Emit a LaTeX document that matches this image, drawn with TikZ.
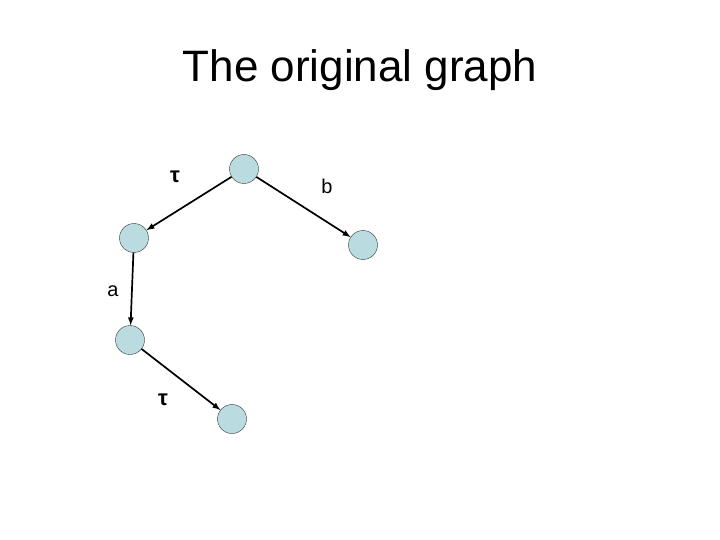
\documentclass[tikz,border=0pt]{standalone}
\usepackage{fontspec}
\setmainfont{Liberation Sans}
\usepackage{tikz}
\definecolor{zustand}{RGB}{186,220,224}

\begin{document}
\begin{tikzpicture}[x=1pt, y=-1pt, >=latex, font=\fontsize{20}{24}\selectfont,
		knoten/.style={circle, draw=black!80, fill=zustand, minimum size=29pt, inner sep=0pt},
		kante/.style={->, line width=1.7pt}]
			% Rahmen
			\useasboundingbox (0,0) rectangle (720,540);
			% Titel
			\node (titel) at (360,70) {\fontsize{44}{50}\selectfont The original graph};
			% Zustaende zeichnen
			\node[knoten] (s0) at (244,169) {};
			\node[knoten] (s1) at (134,238) {};
			\node[knoten] (s2) at (363,245) {};
			\node[knoten] (s3) at (130,340) {};
			\node[knoten] (s4) at (232,419) {};
			% Kanten zeichnen
			\draw[kante] (s0) -- (s1);
			\draw[kante] (s0) -- (s2);
			\draw[kante] (s1) -- (s3);
			\draw[kante] (s3) -- (s4);
			% Beschriftung
			\node[font=\fontsize{22}{24}\bfseries] (l01) at (175,177) {τ};
			\node (l02) at (327,186) {b};
			\node (l13) at (113,291) {a};
			\node[font=\fontsize{22}{24}\bfseries] (l34) at (163,400) {τ};
		\end{tikzpicture}
\end{document}
